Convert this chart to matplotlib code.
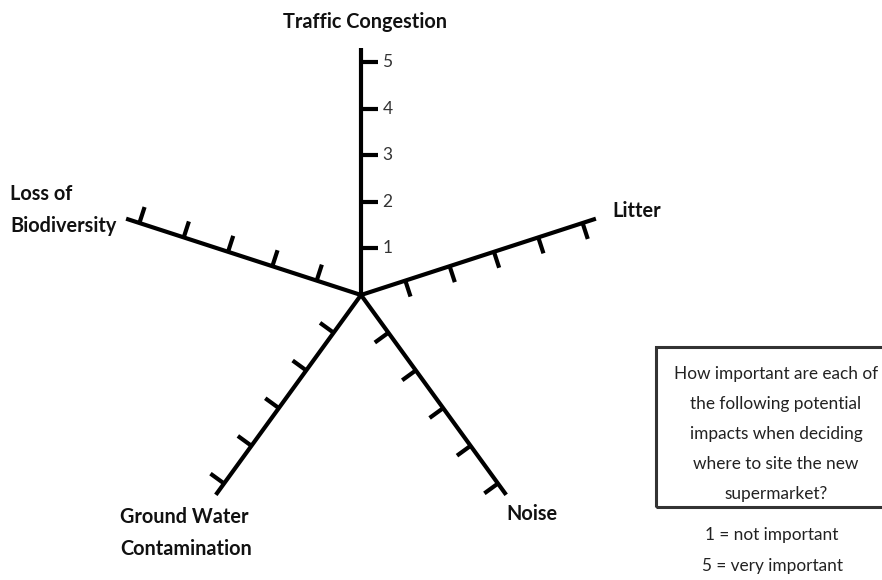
import numpy as np
import matplotlib
matplotlib.use("Agg")
import matplotlib.pyplot as plt
from matplotlib.patches import Rectangle

# Spokes of the rating web, listed clockwise from the top
categories = ["Traffic Congestion", "Litter", "Noise",
              "Ground Water\nContamination", "Loss of\nBiodiversity"]
scale_levels = [1, 2, 3, 4, 5]
axis_max = 5.3

question = ("How important are each of\nthe following potential\n"
            "impacts when deciding\nwhere to site the new\nsupermarket?")
key_low = "1 = not important"
key_high = "5 = very important"

W, H, DPI = 882, 580, 100
plt.rcParams['font.family'] = ['Lato', 'DejaVu Sans']

fig = plt.figure(figsize=(W / DPI, H / DPI), dpi=DPI)
ax = fig.add_axes([0, 0, 1, 1])
unit = 46.6            # pixels per scale step
cx, cy = 361, 295      # web centre, pixels from top-left
ax.set_xlim(-cx / unit, (W - cx) / unit)
ax.set_ylim(-(H - cy) / unit, cy / unit)
ax.axis('off')


def px(x, y):
    """Pixel position (from top-left) to data coordinates."""
    return (x - cx) / unit, (cy - y) / unit


ink = '#000000'
lw = 3.0
tick_len = 0.36

angles = np.deg2rad(90 - 72 * np.arange(len(categories)))
for i, a in enumerate(angles):
    d = np.array([np.cos(a), np.sin(a)])
    side = np.array([np.sin(a), -np.cos(a)])   # clockwise side of the spoke
    end = d * axis_max
    ax.plot([0, end[0]], [0, end[1]], color=ink, lw=lw,
            solid_capstyle='butt', zorder=3)
    for lvl in scale_levels:
        p = d * lvl
        q = p + side * tick_len
        ax.plot([p[0], q[0]], [p[1], q[1]], color=ink, lw=lw,
                solid_capstyle='butt', zorder=3)
        if i == 0:
            ax.text(q[0] + 0.1, q[1], str(lvl), ha='left', va='center',
                    fontsize=12.5, color='#333333')

label_style = dict(fontsize=14.3, fontweight='bold', color='#111111',
                   linespacing=1.76)
ax.text(*px(365, 22), categories[0], ha='center', va='center', **label_style)
ax.text(*px(612, 211), categories[1], ha='left', va='center', **label_style)
ax.text(*px(506, 514), categories[2], ha='left', va='center', **label_style)
ax.text(*px(120, 533), categories[3], ha='left', va='center', **label_style)
ax.text(*px(10, 210), categories[4], ha='left', va='center', **label_style)

# Question box on the right
x0, y0 = px(656, 507)
x1, y1 = px(905, 347)
ax.add_patch(Rectangle((x0, y0), x1 - x0, y1 - y0, fill=False,
                       edgecolor='#333333', lw=2.2, zorder=2))
ax.text(*px(776, 434), question, ha='center', va='center', fontsize=12.4,
        color='#222222', linespacing=2.06)
ax.text(*px(772, 535), key_low, ha='center', va='center', fontsize=12.4,
        color='#222222')
ax.text(*px(772, 566), key_high, ha='center', va='center', fontsize=12.4,
        color='#222222')

fig.savefig('out.png', dpi=DPI, facecolor='white')
